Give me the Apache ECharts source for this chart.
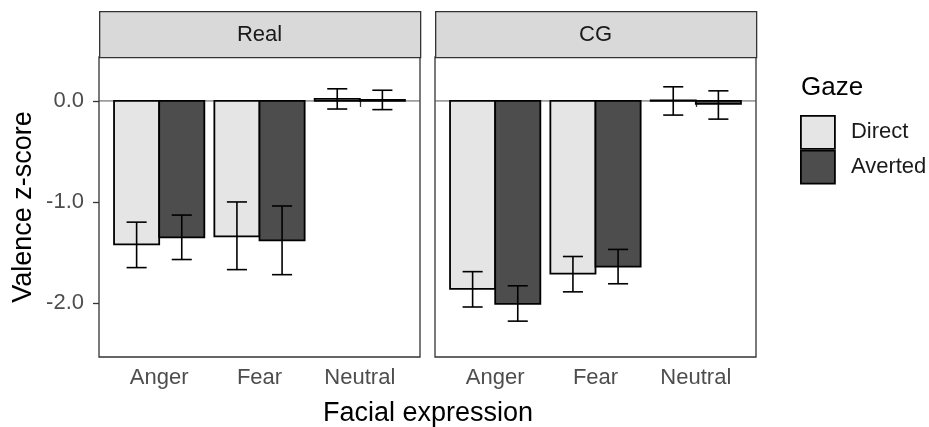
<!DOCTYPE html>
<html>
<head>
<meta charset="utf-8">
<script src="https://cdn.jsdelivr.net/npm/echarts@6/dist/echarts.min.js"></script>
<style>
html,body{margin:0;padding:0;background:#fff;}
#chart{width:929px;height:427px;}
</style>
</head>
<body>
<div id="chart"></div>
<script>
// ---- data ----
const categories = ['Anger', 'Fear', 'Neutral'];
const panels = ['Real', 'CG'];
const gazeLevels = ['Direct', 'Averted'];
const yTicks = [-2, -1, 0];

const realDirect   = [-1.42, -1.34, 0.02];
const realDirectLo = [-1.65, -1.67, -0.08];
const realDirectHi = [-1.20, -1.00, 0.12];

const realAverted   = [-1.35, -1.38, 0.01];
const realAvertedLo = [-1.57, -1.72, -0.086];
const realAvertedHi = [-1.13, -1.04, 0.106];

const cgDirect   = [-1.86, -1.71, 0.005];
const cgDirectLo = [-2.04, -1.89, -0.14];
const cgDirectHi = [-1.69, -1.54, 0.14];

const cgAverted   = [-2.01, -1.64, -0.03];
const cgAvertedLo = [-2.18, -1.81, -0.18];
const cgAvertedHi = [-1.83, -1.47, 0.10];

const refLine = 0;

// ---- styling ----
const FONT = 'Liberation Sans';
const fillDirect = '#e5e5e5';
const fillAverted = '#4d4d4d';
const dodge = 0.225, barW = 0.45, capHalf = 0.1;

function barSeries(name, gi, vals, offset, color) {
  return {
    type: 'custom', name: name, xAxisIndex: gi, yAxisIndex: gi, z: 3,
    itemStyle: { color: color },
    encode: { x: 0, y: 1 },
    data: vals.map((v, i) => [i + 1, v]),
    renderItem: function (params, api) {
      const x = api.value(0), v = api.value(1);
      const p1 = api.coord([x + offset - barW / 2, Math.max(v, 0)]);
      const p2 = api.coord([x + offset + barW / 2, Math.min(v, 0)]);
      return {
        type: 'rect',
        shape: { x: p1[0], y: p1[1], width: p2[0] - p1[0], height: p2[1] - p1[1] },
        style: { fill: color, stroke: '#000', lineWidth: 1.8 }
      };
    }
  };
}

function errSeries(name, gi, lo, hi, offset) {
  return {
    type: 'custom', name: name, xAxisIndex: gi, yAxisIndex: gi, z: 4,
    encode: { x: 0, y: [1, 2] },
    data: lo.map((l, i) => [i + 1, l, hi[i]]),
    renderItem: function (params, api) {
      const x = api.value(0) + offset;
      const a = api.coord([x, api.value(1)]);
      const b = api.coord([x, api.value(2)]);
      const l1 = api.coord([x - capHalf, api.value(1)]);
      const r1 = api.coord([x + capHalf, api.value(1)]);
      const l2 = api.coord([x - capHalf, api.value(2)]);
      const r2 = api.coord([x + capHalf, api.value(2)]);
      const st = { stroke: '#000', lineWidth: 1.6 };
      return {
        type: 'group',
        children: [
          { type: 'line', shape: { x1: a[0], y1: a[1], x2: b[0], y2: b[1] }, style: st },
          { type: 'line', shape: { x1: l1[0], y1: l1[1], x2: r1[0], y2: r1[1] }, style: st },
          { type: 'line', shape: { x1: l2[0], y1: l2[1], x2: r2[0], y2: r2[1] }, style: st }
        ]
      };
    }
  };
}

function hline(gi) {
  return {
    type: 'line', xAxisIndex: gi, yAxisIndex: gi, z: 1, silent: true,
    symbol: 'none', data: [[0.4, refLine], [3.6, refLine]],
    lineStyle: { color: '#555', width: 1 }
  };
}

const gridsPx = [{ left: 99, width: 321 }, { left: 435, width: 321 }];
const gridTop = 57, gridBottom = 70; // 427-357

function xAxis(gi) {
  return {
    type: 'value', gridIndex: gi, min: 0.4, max: 3.6,
    axisLine: { show: false },
    splitLine: { show: false },
    axisTick: { show: true, customValues: [1, 2, 3], length: 6, lineStyle: { color: '#333', width: 1.3 } },
    axisLabel: {
      customValues: [1, 2, 3], margin: 10,
      formatter: v => categories[Math.round(v) - 1] || '',
      fontFamily: FONT, fontSize: 22, color: '#4d4d4d'
    }
  };
}
function yAxis(gi) {
  return {
    type: 'value', gridIndex: gi, min: -2.535, max: 0.435,
    axisLine: { show: false },
    splitLine: { show: false },
    axisTick: { show: gi === 0, customValues: yTicks, length: 6, lineStyle: { color: '#333', width: 1.3 } },
    axisLabel: {
      show: gi === 0, customValues: yTicks, margin: 15,
      formatter: v => v.toFixed(1),
      fontFamily: FONT, fontSize: 22, color: '#4d4d4d'
    },
    name: gi === 0 ? 'Valence z-score' : '',
    nameLocation: 'middle', nameGap: 62, nameRotate: 90,
    nameTextStyle: { fontFamily: FONT, fontSize: 27, color: '#000' }
  };
}

const chart = echarts.init(document.getElementById('chart'), null, { renderer: 'canvas' });

const graphics = [];
panels.forEach((p, i) => {
  const g = gridsPx[i];
  graphics.push({
    type: 'rect', left: g.left, top: 11, z: 10,
    shape: { width: g.width, height: 46 },
    style: { fill: '#d9d9d9', stroke: '#333', lineWidth: 1.3 }
  });
  graphics.push({
    type: 'text', x: g.left + g.width / 2, y: 35, z: 11,
    style: { text: p, fontFamily: FONT, fontSize: 22, fill: '#1a1a1a', textAlign: 'center', textVerticalAlign: 'middle' }
  });
});
graphics.push({
  type: 'text', x: 428, y: 414, z: 11,
  style: { text: 'Facial expression', fontFamily: FONT, fontSize: 27, fill: '#000', textAlign: 'center', textVerticalAlign: 'middle' }
});
graphics.push({
  type: 'text', x: 801, y: 88, z: 11,
  style: { text: 'Gaze', fontFamily: FONT, fontSize: 26, fill: '#000', textAlign: 'left', textVerticalAlign: 'middle' }
});

chart.setOption({
  animation: false,
  backgroundColor: '#fff',
  grid: gridsPx.map(g => ({
    left: g.left, width: g.width, top: gridTop, bottom: gridBottom,
    show: true, borderColor: '#333', borderWidth: 1.3, backgroundColor: 'transparent'
  })),
  xAxis: [xAxis(0), xAxis(1)],
  yAxis: [yAxis(0), yAxis(1)],
  legend: {
    orient: 'vertical', left: 795, top: 110,
    itemWidth: 34, itemHeight: 33, itemGap: 0,
    icon: 'rect',
    data: [
      { name: 'Direct', itemStyle: { color: fillDirect, borderColor: '#000', borderWidth: 1.8 } },
      { name: 'Averted', itemStyle: { color: fillAverted, borderColor: '#000', borderWidth: 1.8 } }
    ],
    textStyle: { fontFamily: FONT, fontSize: 22, color: '#1a1a1a', padding: [0, 0, 0, 11] },
    selectedMode: false
  },
  graphic: graphics,
  series: [
    hline(0), hline(1),
    barSeries('Direct', 0, realDirect, -dodge, fillDirect),
    barSeries('Averted', 0, realAverted, dodge, fillAverted),
    barSeries('Direct', 1, cgDirect, -dodge, fillDirect),
    barSeries('Averted', 1, cgAverted, dodge, fillAverted),
    errSeries('Direct err', 0, realDirectLo, realDirectHi, -dodge),
    errSeries('Averted err', 0, realAvertedLo, realAvertedHi, dodge),
    errSeries('Direct err', 1, cgDirectLo, cgDirectHi, -dodge),
    errSeries('Averted err', 1, cgAvertedLo, cgAvertedHi, dodge)
  ]
});
</script>
</body>
</html>
